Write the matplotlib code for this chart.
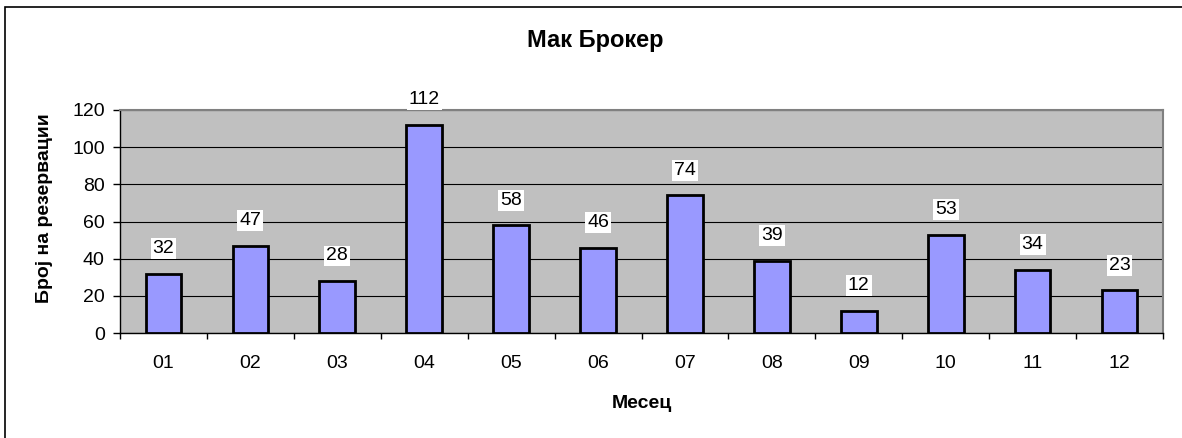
"""Мак Брокер — monthly reservations bar chart (Excel style)."""
import matplotlib
matplotlib.use("Agg")
import matplotlib.pyplot as plt
from matplotlib.patches import Rectangle

plt.rcParams["font.family"] = ["Liberation Sans", "DejaVu Sans"]

# ── Data ────────────────────────────────────────────────────
months = ["01", "02", "03", "04", "05", "06", "07", "08", "09", "10", "11", "12"]
reservations = [32, 47, 28, 112, 58, 46, 74, 39, 12, 53, 34, 23]
y_ticks = [0, 20, 40, 60, 80, 100, 120]

# ── Colors ──────────────────────────────────────────────────
PLOT_BG = "#C0C0C0"
BAR = "#9999FF"
GRID = "#000000"
FS = 14

W, H = 1182, 438
fig = plt.figure(figsize=(W / 100, H / 100), dpi=100, facecolor="white")
ax = fig.add_axes([120 / W, 1 - 333 / H, 1043 / W, 223 / H])
ax.set_facecolor(PLOT_BG)

x = list(range(len(months)))
ax.bar(x, reservations, width=0.41, color=BAR, edgecolor="black",
       linewidth=2, zorder=3)

ax.set_xlim(-0.5, len(months) - 0.5)
ax.set_ylim(0, 120)
ax.set_yticks(y_ticks)
ax.set_yticklabels([str(t) for t in y_ticks], fontsize=FS)
ax.yaxis.grid(True, color=GRID, linewidth=0.8, zorder=1)
ax.set_axisbelow(True)

# category labels at centres, tick marks between categories
ax.set_xticks(x)
ax.set_xticklabels(months, fontsize=FS)
ax.tick_params(axis="x", length=0, pad=16)
ax.set_xticks([i - 0.5 for i in range(len(months) + 1)], minor=True)
ax.tick_params(axis="x", which="minor", length=4.5, direction="out", width=1)
ax.tick_params(axis="y", length=5, direction="out", width=1, pad=6)

for side in ("top", "right"):
    ax.spines[side].set_color("#808080")
    ax.spines[side].set_linewidth(1.5)
for side in ("left", "bottom"):
    ax.spines[side].set_color("black")
    ax.spines[side].set_linewidth(1)

# value labels with white boxes
for xi, v in zip(x, reservations):
    ax.annotate(str(v), xy=(xi, v), xytext=(0, 18), textcoords="offset points",
                ha="center", va="center", fontsize=FS, zorder=5,
                bbox=dict(boxstyle="square,pad=0.1", facecolor="white",
                          edgecolor="none"),
                annotation_clip=False)

fig.text(595 / W, 1 - 40 / H, "Мак Брокер", fontsize=17, fontweight="bold",
         ha="center", va="center")
ax.set_xlabel("Месец", fontsize=FS, fontweight="bold")
ax.xaxis.set_label_coords(0.5, (333 - 403) / 223)
ax.xaxis.label.set_va("center")
ax.set_ylabel("Број на резервации", fontsize=FS, fontweight="bold")
ax.yaxis.set_label_coords((45 - 120) / 1043, (333 - 208) / 223)
ax.yaxis.label.set_va("center")

# outer chart frame (right/bottom edges fall outside the image)
fig.patches.append(Rectangle((5 / W, -0.05), 1.2, 1 - 7 / H + 0.05,
                             transform=fig.transFigure, fill=False,
                             edgecolor="black", linewidth=1.2))

fig.savefig("out.png", dpi=100, facecolor="white")
